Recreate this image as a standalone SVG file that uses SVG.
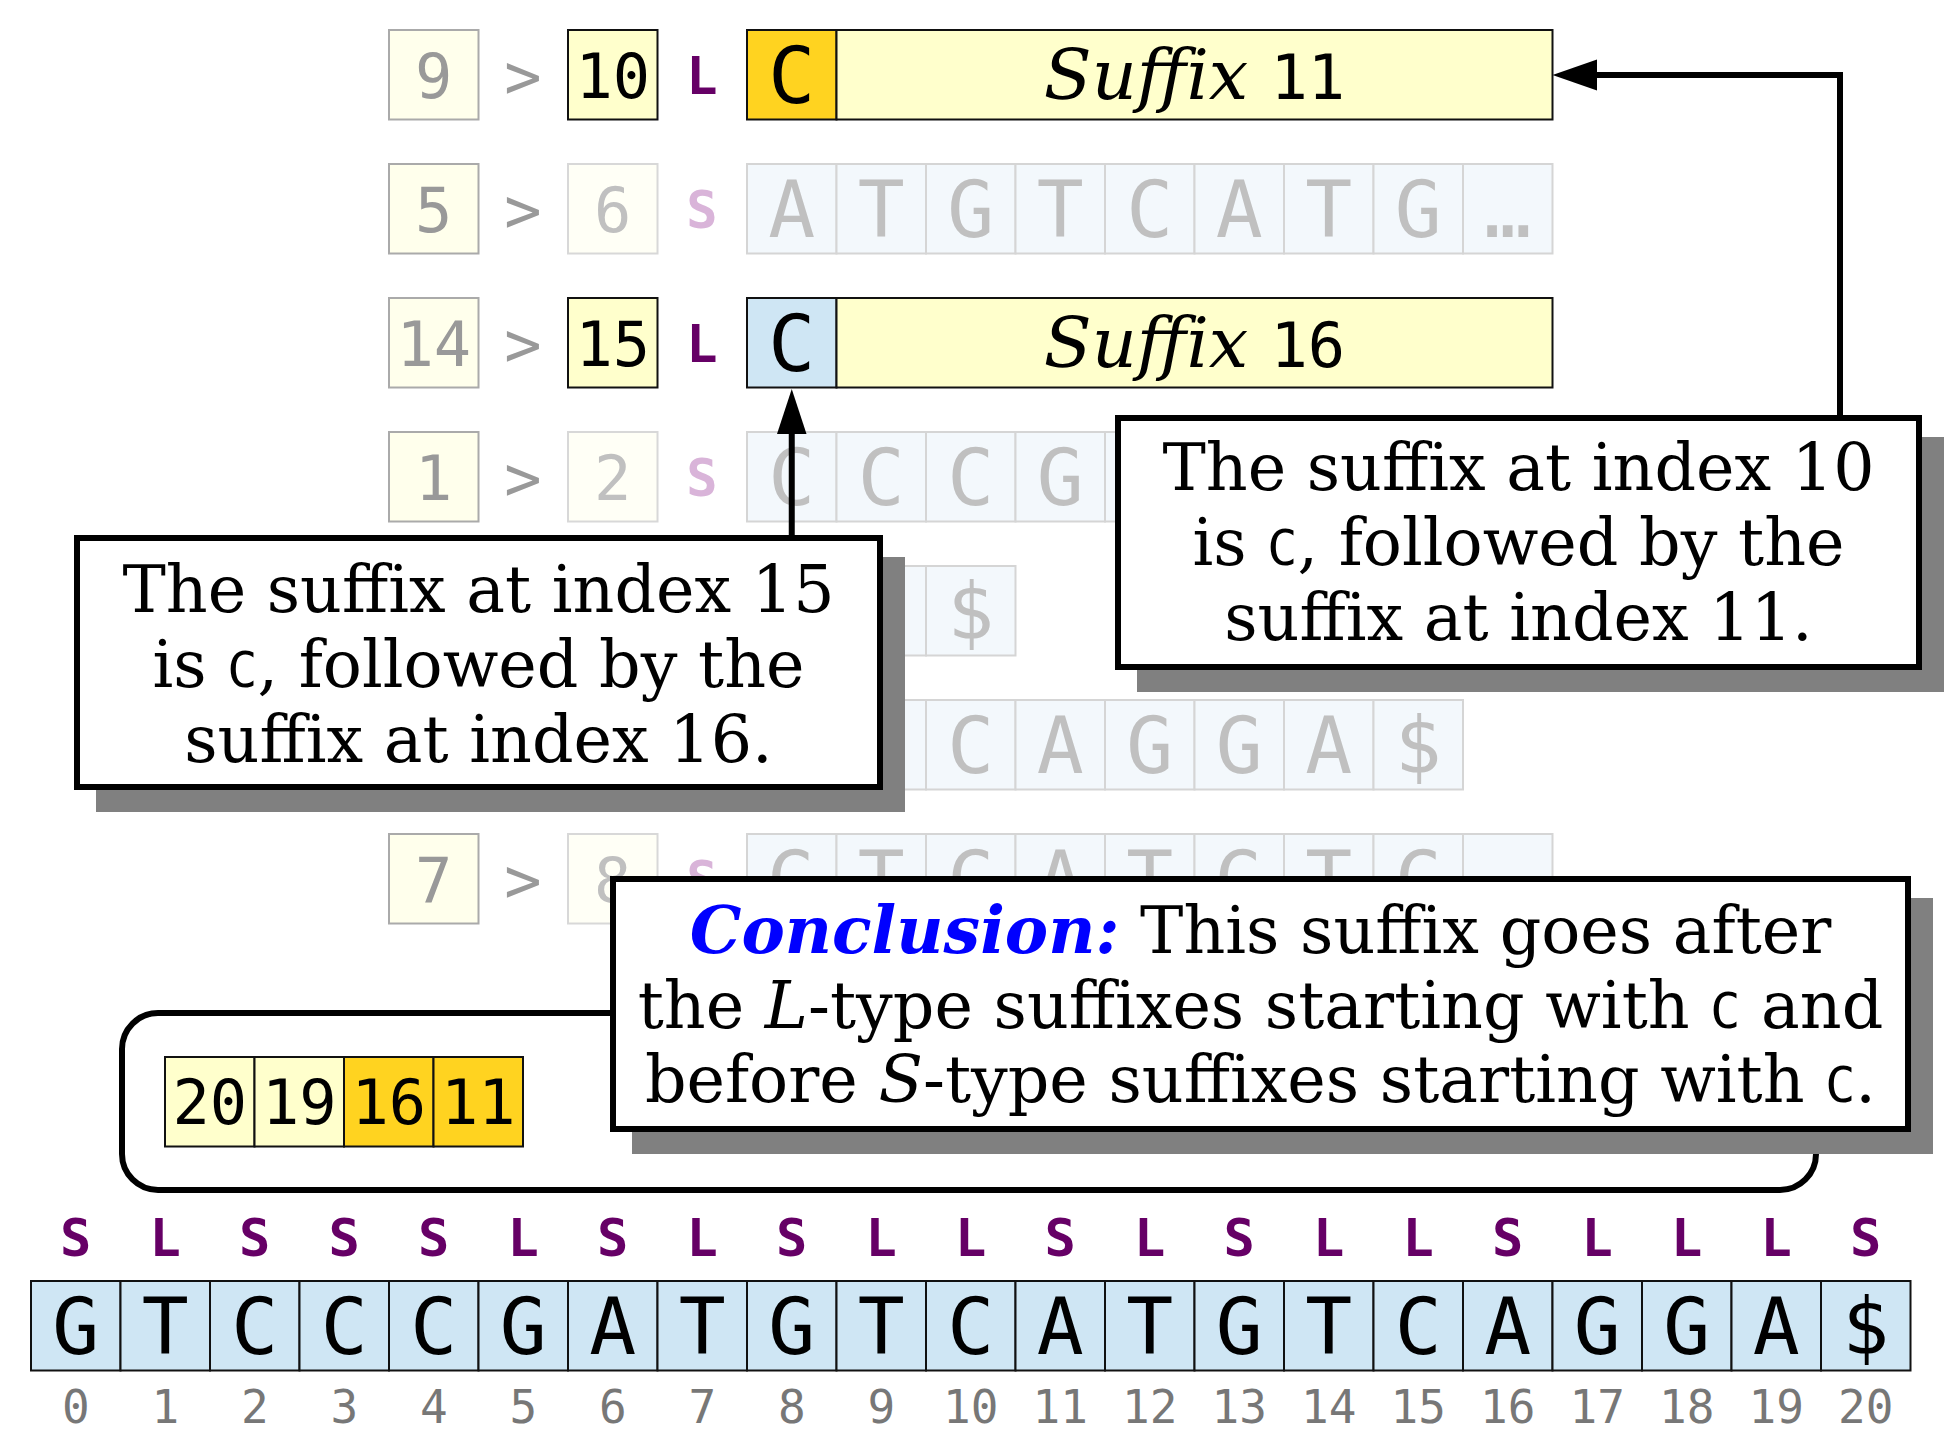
<svg xmlns="http://www.w3.org/2000/svg" width="1954" height="1454" viewBox="0 0 1954 1454">
<defs>
<clipPath id="clipRow6"><rect x="300" y="820" width="1300" height="57"/></clipPath>
</defs>
<style>
.mono{font-family:"DejaVu Sans Mono","Liberation Mono",monospace}
.serif{font-family:"DejaVu Serif","Liberation Serif",serif}
.num{font-family:"DejaVu Sans Mono","Liberation Mono",monospace;font-size:62px;text-anchor:middle}
.let{font-family:"DejaVu Sans Mono","Liberation Mono",monospace;font-size:78px;text-anchor:middle}
.typ{font-family:"DejaVu Sans Mono","Liberation Mono",monospace;font-size:52px;font-weight:bold;text-anchor:middle}
.idx{font-family:"DejaVu Sans Mono","Liberation Mono",monospace;font-size:46px;text-anchor:middle;fill:#777}
.b1{fill:#ffffec;stroke:#aaa;stroke-width:2}
.b2f{fill:#fffff6;stroke:#d8d8d8;stroke-width:2}
.yel{fill:#ffffcc;stroke:#111;stroke-width:2}
.gold{fill:#ffd320;stroke:#111;stroke-width:2}
.blue{fill:#cfe6f4;stroke:#111;stroke-width:2}
.cf{fill:#f3f8fc;stroke:#d5d5d5;stroke-width:2}
.g1{fill:#999}
.g2{fill:#c0c0c0}
.pA{fill:#660066}
.pF{fill:#d9b4d9}
.blk{fill:#000}
.shadow{fill:#808080}
.box{fill:#fff;stroke:#000;stroke-width:6}
.ctext{font-family:"DejaVu Serif","Liberation Serif",serif;font-size:65px;text-anchor:middle;fill:#000}
.cm{font-family:"DejaVu Sans Mono","Liberation Mono",monospace;font-size:50px}
.conn{fill:none;stroke:#000;stroke-width:6}
</style>

<!-- Row 0 -->
<g id="row0">
<rect class="b1" x="389" y="30" width="89.5" height="89.5"/>
<text class="num g1" x="433.75" y="97.6">9</text>
<text class="num g1" x="523" y="98">&gt;</text>
<rect class="yel" x="568" y="30" width="89.5" height="89.5"/>
<text class="num blk" x="612.75" y="97.6">10</text>
<text class="typ pA" x="702" y="94">L</text>
<rect class="gold" x="747" y="30" width="89.5" height="89.5"/>
<text class="let blk" x="791.75" y="103.4">C</text>
<rect class="yel" x="836.5" y="30" width="716" height="89.5"/>
<text x="1194.5" y="99" text-anchor="middle" fill="#000"><tspan class="serif" font-style="italic" font-size="70">Suffix </tspan><tspan class="mono" font-size="62">11</tspan></text>
</g>

<!-- Row 1 -->
<g id="row1">
<rect class="b1" x="389" y="164" width="89.5" height="89.5"/>
<text class="num g1" x="433.75" y="231.6">5</text>
<text class="num g1" x="523" y="232">&gt;</text>
<rect class="b2f" x="568" y="164" width="89.5" height="89.5"/>
<text class="num g2" x="612.75" y="231.6">6</text>
<text class="typ pF" x="702" y="228">S</text>
<rect class="cf" x="747" y="164" width="89.5" height="89.5"/>
<rect class="cf" x="836.5" y="164" width="89.5" height="89.5"/>
<rect class="cf" x="926" y="164" width="89.5" height="89.5"/>
<rect class="cf" x="1015.5" y="164" width="89.5" height="89.5"/>
<rect class="cf" x="1105" y="164" width="89.5" height="89.5"/>
<rect class="cf" x="1194.5" y="164" width="89.5" height="89.5"/>
<rect class="cf" x="1284" y="164" width="89.5" height="89.5"/>
<rect class="cf" x="1373.5" y="164" width="89.5" height="89.5"/>
<rect class="cf" x="1463" y="164" width="89.5" height="89.5"/>
<text class="let g2" x="791.75" y="237.4">A</text>
<text class="let g2" x="881.25" y="237.4">T</text>
<text class="let g2" x="970.75" y="237.4">G</text>
<text class="let g2" x="1060.25" y="237.4">T</text>
<text class="let g2" x="1149.75" y="237.4">C</text>
<text class="let g2" x="1239.25" y="237.4">A</text>
<text class="let g2" x="1328.75" y="237.4">T</text>
<text class="let g2" x="1418.25" y="237.4">G</text>
<text class="let g2" x="1507.75" y="237.4" font-size="50">…</text>
</g>

<!-- Row 2 -->
<g id="row2">
<rect class="b1" x="389" y="298" width="89.5" height="89.5"/>
<text class="num g1" x="433.75" y="365.6">14</text>
<text class="num g1" x="523" y="366">&gt;</text>
<rect class="yel" x="568" y="298" width="89.5" height="89.5"/>
<text class="num blk" x="612.75" y="365.6">15</text>
<text class="typ pA" x="702" y="362">L</text>
<rect class="blue" x="747" y="298" width="89.5" height="89.5"/>
<text class="let blk" x="791.75" y="371.4">C</text>
<rect class="yel" x="836.5" y="298" width="716" height="89.5"/>
<text x="1194.5" y="367" text-anchor="middle" fill="#000"><tspan class="serif" font-style="italic" font-size="70">Suffix </tspan><tspan class="mono" font-size="62">16</tspan></text>
</g>

<!-- Row 3 -->
<g id="row3">
<rect class="b1" x="389" y="432" width="89.5" height="89.5"/>
<text class="num g1" x="433.75" y="499.6">1</text>
<text class="num g1" x="523" y="500">&gt;</text>
<rect class="b2f" x="568" y="432" width="89.5" height="89.5"/>
<text class="num g2" x="612.75" y="499.6">2</text>
<text class="typ pF" x="702" y="496">S</text>
<rect class="cf" x="747" y="432" width="89.5" height="89.5"/>
<rect class="cf" x="836.5" y="432" width="89.5" height="89.5"/>
<rect class="cf" x="926" y="432" width="89.5" height="89.5"/>
<rect class="cf" x="1015.5" y="432" width="89.5" height="89.5"/>
<rect class="cf" x="1105" y="432" width="89.5" height="89.5"/>
<text class="let g2" x="791.75" y="505.4">C</text>
<text class="let g2" x="881.25" y="505.4">C</text>
<text class="let g2" x="970.75" y="505.4">C</text>
<text class="let g2" x="1060.25" y="505.4">G</text>
</g>

<!-- Row 4 -->
<g id="row4">
<rect class="cf" x="836.5" y="566" width="89.5" height="89.5"/>
<rect class="cf" x="926" y="566" width="89.5" height="89.5"/>
<text class="let g2" x="970.75" y="639.4">$</text>
</g>

<!-- Row 5 -->
<g id="row5">
<rect class="cf" x="836.5" y="700" width="89.5" height="89.5"/>
<rect class="cf" x="926" y="700" width="89.5" height="89.5"/>
<rect class="cf" x="1015.5" y="700" width="89.5" height="89.5"/>
<rect class="cf" x="1105" y="700" width="89.5" height="89.5"/>
<rect class="cf" x="1194.5" y="700" width="89.5" height="89.5"/>
<rect class="cf" x="1284" y="700" width="89.5" height="89.5"/>
<rect class="cf" x="1373.5" y="700" width="89.5" height="89.5"/>
<text class="let g2" x="970.75" y="773.4">C</text>
<text class="let g2" x="1060.25" y="773.4">A</text>
<text class="let g2" x="1149.75" y="773.4">G</text>
<text class="let g2" x="1239.25" y="773.4">G</text>
<text class="let g2" x="1328.75" y="773.4">A</text>
<text class="let g2" x="1418.25" y="773.4">$</text>
</g>

<!-- Row 6 -->
<g id="row6">
<rect class="b1" x="389" y="834" width="89.5" height="89.5"/>
<text class="num g1" x="433.75" y="901.6">7</text>
<text class="num g1" x="523" y="902">&gt;</text>
<rect class="b2f" x="568" y="834" width="89.5" height="89.5"/>
<text class="num g2" x="612.75" y="901.6">8</text>
<rect class="cf" x="747" y="834" width="89.5" height="89.5"/>
<rect class="cf" x="836.5" y="834" width="89.5" height="89.5"/>
<rect class="cf" x="926" y="834" width="89.5" height="89.5"/>
<rect class="cf" x="1015.5" y="834" width="89.5" height="89.5"/>
<rect class="cf" x="1105" y="834" width="89.5" height="89.5"/>
<rect class="cf" x="1194.5" y="834" width="89.5" height="89.5"/>
<rect class="cf" x="1284" y="834" width="89.5" height="89.5"/>
<rect class="cf" x="1373.5" y="834" width="89.5" height="89.5"/>
<rect class="cf" x="1463" y="834" width="89.5" height="89.5"/>
<g clip-path="url(#clipRow6)">
<text class="typ pF" x="702" y="898">S</text>
<text class="let g2" x="791.75" y="907.4">G</text>
<text class="let g2" x="881.25" y="907.4">T</text>
<text class="let g2" x="970.75" y="907.4">C</text>
<text class="let g2" x="1060.25" y="907.4">A</text>
<text class="let g2" x="1149.75" y="907.4">T</text>
<text class="let g2" x="1239.25" y="907.4">G</text>
<text class="let g2" x="1328.75" y="907.4">T</text>
<text class="let g2" x="1418.25" y="907.4">C</text>
</g>
</g>

<!-- Bucket bracket and array -->
<g id="bucket">
<rect x="122" y="1013" width="1694" height="177" rx="36" ry="36" fill="none" stroke="#000" stroke-width="6"/>
<rect class="yel" x="165" y="1057" width="89.5" height="89.5"/>
<rect class="yel" x="254.5" y="1057" width="89.5" height="89.5"/>
<rect class="gold" x="344" y="1057" width="89.5" height="89.5"/>
<rect class="gold" x="433.5" y="1057" width="89.5" height="89.5"/>
<text class="num blk" x="209.75" y="1124.4">20</text>
<text class="num blk" x="299.25" y="1124.4">19</text>
<text class="num blk" x="388.75" y="1124.4">16</text>
<text class="num blk" x="478.25" y="1124.4">11</text>
</g>

<!-- Callout left -->
<g id="callout15">
<rect class="shadow" x="96" y="557" width="809" height="255"/>
<rect class="box" x="77" y="538" width="803" height="249"/>
<text class="ctext" x="478.5" y="612">The suffix at index 15</text>
<text class="ctext" x="478.5" y="687">is <tspan class="cm">C</tspan>, followed by the</text>
<text class="ctext" x="478.5" y="762">suffix at index 16.</text>
</g>

<!-- Callout right -->
<g id="callout10">
<rect class="shadow" x="1137" y="437" width="807" height="255"/>
<rect class="box" x="1118" y="418" width="801" height="249"/>
<text class="ctext" x="1518.5" y="490">The suffix at index 10</text>
<text class="ctext" x="1518.5" y="565">is <tspan class="cm">C</tspan>, followed by the</text>
<text class="ctext" x="1518.5" y="640">suffix at index 11.</text>
</g>

<!-- Conclusion -->
<g id="conclusion">
<rect class="shadow" x="632" y="898" width="1301" height="256"/>
<rect class="box" x="613" y="879" width="1295" height="250"/>
<text class="ctext" x="1260.5" y="953"><tspan fill="#0000ff" font-weight="bold" font-style="italic">Conclusion:</tspan> This suffix goes after</text>
<text class="ctext" x="1260.5" y="1028">the <tspan font-style="italic">L</tspan>-type suffixes starting with <tspan class="cm">C</tspan> and</text>
<text class="ctext" x="1260.5" y="1102">before <tspan font-style="italic">S</tspan>-type suffixes starting with <tspan class="cm">C</tspan>.</text>
</g>

<!-- Bottom string -->
<g id="types">
<text class="typ pA" x="75.75" y="1256">S</text>
<text class="typ pA" x="165.25" y="1256">L</text>
<text class="typ pA" x="254.75" y="1256">S</text>
<text class="typ pA" x="344.25" y="1256">S</text>
<text class="typ pA" x="433.75" y="1256">S</text>
<text class="typ pA" x="523.25" y="1256">L</text>
<text class="typ pA" x="612.75" y="1256">S</text>
<text class="typ pA" x="702.25" y="1256">L</text>
<text class="typ pA" x="791.75" y="1256">S</text>
<text class="typ pA" x="881.25" y="1256">L</text>
<text class="typ pA" x="970.75" y="1256">L</text>
<text class="typ pA" x="1060.25" y="1256">S</text>
<text class="typ pA" x="1149.75" y="1256">L</text>
<text class="typ pA" x="1239.25" y="1256">S</text>
<text class="typ pA" x="1328.75" y="1256">L</text>
<text class="typ pA" x="1418.25" y="1256">L</text>
<text class="typ pA" x="1507.75" y="1256">S</text>
<text class="typ pA" x="1597.25" y="1256">L</text>
<text class="typ pA" x="1686.75" y="1256">L</text>
<text class="typ pA" x="1776.25" y="1256">L</text>
<text class="typ pA" x="1865.75" y="1256">S</text>
</g>
<g id="string">
<rect class="blue" x="31" y="1281" width="89.5" height="89.5"/>
<rect class="blue" x="120.5" y="1281" width="89.5" height="89.5"/>
<rect class="blue" x="210" y="1281" width="89.5" height="89.5"/>
<rect class="blue" x="299.5" y="1281" width="89.5" height="89.5"/>
<rect class="blue" x="389" y="1281" width="89.5" height="89.5"/>
<rect class="blue" x="478.5" y="1281" width="89.5" height="89.5"/>
<rect class="blue" x="568" y="1281" width="89.5" height="89.5"/>
<rect class="blue" x="657.5" y="1281" width="89.5" height="89.5"/>
<rect class="blue" x="747" y="1281" width="89.5" height="89.5"/>
<rect class="blue" x="836.5" y="1281" width="89.5" height="89.5"/>
<rect class="blue" x="926" y="1281" width="89.5" height="89.5"/>
<rect class="blue" x="1015.5" y="1281" width="89.5" height="89.5"/>
<rect class="blue" x="1105" y="1281" width="89.5" height="89.5"/>
<rect class="blue" x="1194.5" y="1281" width="89.5" height="89.5"/>
<rect class="blue" x="1284" y="1281" width="89.5" height="89.5"/>
<rect class="blue" x="1373.5" y="1281" width="89.5" height="89.5"/>
<rect class="blue" x="1463" y="1281" width="89.5" height="89.5"/>
<rect class="blue" x="1552.5" y="1281" width="89.5" height="89.5"/>
<rect class="blue" x="1642" y="1281" width="89.5" height="89.5"/>
<rect class="blue" x="1731.5" y="1281" width="89.5" height="89.5"/>
<rect class="blue" x="1821" y="1281" width="89.5" height="89.5"/>
<text class="let blk" x="75.75" y="1354">G</text>
<text class="let blk" x="165.25" y="1354">T</text>
<text class="let blk" x="254.75" y="1354">C</text>
<text class="let blk" x="344.25" y="1354">C</text>
<text class="let blk" x="433.75" y="1354">C</text>
<text class="let blk" x="523.25" y="1354">G</text>
<text class="let blk" x="612.75" y="1354">A</text>
<text class="let blk" x="702.25" y="1354">T</text>
<text class="let blk" x="791.75" y="1354">G</text>
<text class="let blk" x="881.25" y="1354">T</text>
<text class="let blk" x="970.75" y="1354">C</text>
<text class="let blk" x="1060.25" y="1354">A</text>
<text class="let blk" x="1149.75" y="1354">T</text>
<text class="let blk" x="1239.25" y="1354">G</text>
<text class="let blk" x="1328.75" y="1354">T</text>
<text class="let blk" x="1418.25" y="1354">C</text>
<text class="let blk" x="1507.75" y="1354">A</text>
<text class="let blk" x="1597.25" y="1354">G</text>
<text class="let blk" x="1686.75" y="1354">G</text>
<text class="let blk" x="1776.25" y="1354">A</text>
<text class="let blk" x="1865.75" y="1354">$</text>
</g>
<g id="indices">
<text class="idx" x="75.75" y="1423">0</text>
<text class="idx" x="165.25" y="1423">1</text>
<text class="idx" x="254.75" y="1423">2</text>
<text class="idx" x="344.25" y="1423">3</text>
<text class="idx" x="433.75" y="1423">4</text>
<text class="idx" x="523.25" y="1423">5</text>
<text class="idx" x="612.75" y="1423">6</text>
<text class="idx" x="702.25" y="1423">7</text>
<text class="idx" x="791.75" y="1423">8</text>
<text class="idx" x="881.25" y="1423">9</text>
<text class="idx" x="970.75" y="1423">10</text>
<text class="idx" x="1060.25" y="1423">11</text>
<text class="idx" x="1149.75" y="1423">12</text>
<text class="idx" x="1239.25" y="1423">13</text>
<text class="idx" x="1328.75" y="1423">14</text>
<text class="idx" x="1418.25" y="1423">15</text>
<text class="idx" x="1507.75" y="1423">16</text>
<text class="idx" x="1597.25" y="1423">17</text>
<text class="idx" x="1686.75" y="1423">18</text>
<text class="idx" x="1776.25" y="1423">19</text>
<text class="idx" x="1865.75" y="1423">20</text>
</g>

<!-- Connectors -->
<g id="connectors">
<path class="conn" d="M791.75,535 V430"/>
<polygon fill="#000" points="791.75,389 777,434 806.5,434"/>
<path class="conn" d="M1840,415 V75 H1594"/>
<polygon fill="#000" points="1552.5,75 1597,59.5 1597,90.5"/>
</g>
</svg>
